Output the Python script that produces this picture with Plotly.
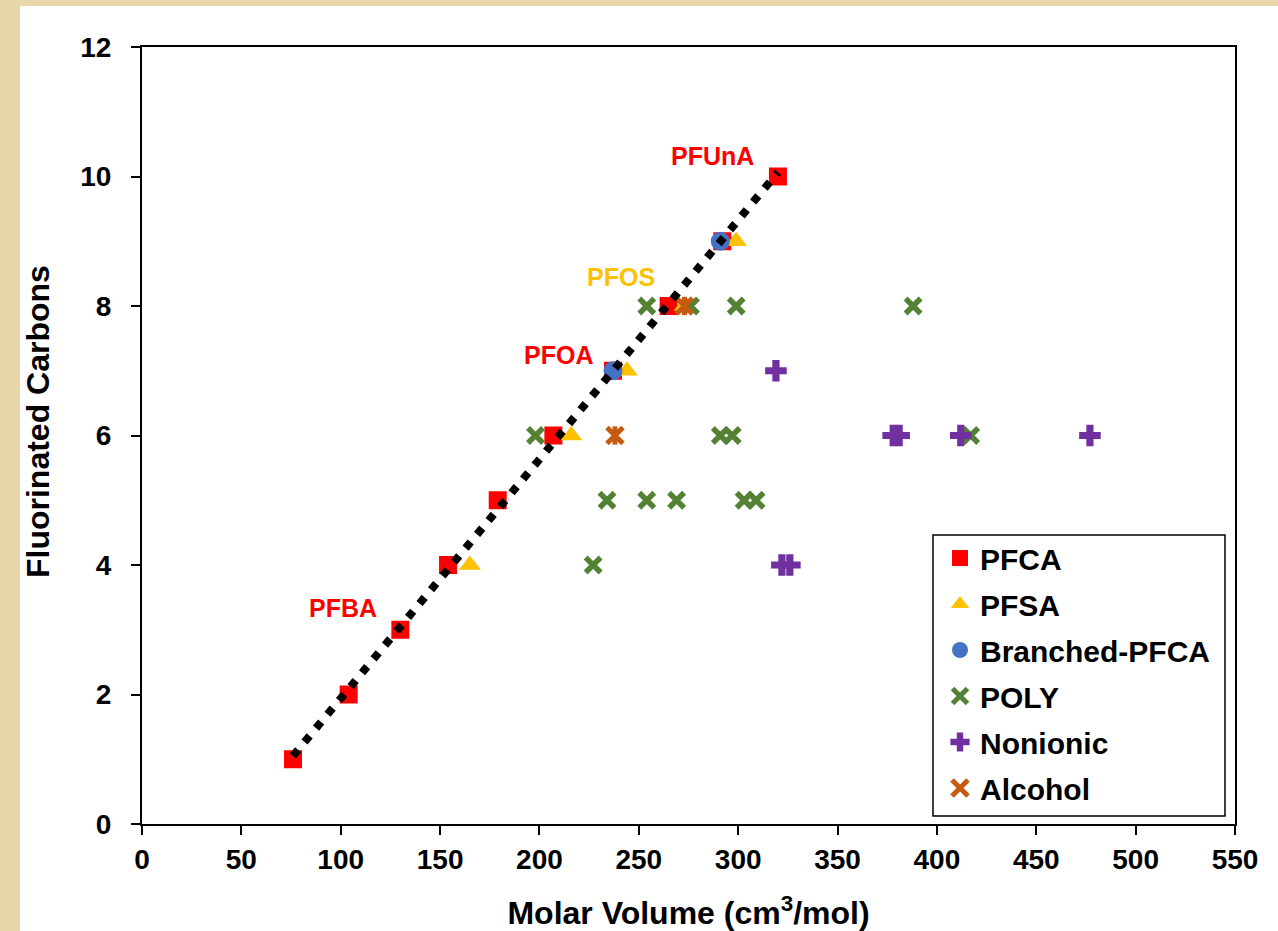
import numpy as np
import plotly.graph_objects as go

# ---------------- data ----------------
pfca_x = [76, 104, 130, 154, 179, 207, 237, 265, 292, 320]
pfca_y = [1, 2, 3, 4, 5, 6, 7, 8, 9, 10]

pfsa_x = [165, 216, 244, 273, 299]
pfsa_y = [4, 6, 7, 8, 9]

branched_x = [237, 291]
branched_y = [7, 9]

poly_x = [198, 227, 234, 254, 269, 303, 309, 254, 276, 299, 388, 291, 297, 417]
poly_y = [6, 4, 5, 5, 5, 5, 5, 8, 8, 8, 8, 6, 6, 6]

nonionic_x = [319, 378, 381, 412, 477, 322, 326]
nonionic_y = [7, 6, 6, 6, 6, 4, 4]

alcohol_x = [238, 273]
alcohol_y = [6, 8]

label_text = ["PFUnA", "PFOS", "PFOA", "PFBA"]
label_x = [287, 241, 209.5, 101]
label_y = [10.32, 8.45, 7.25, 3.33]
label_col = ["#FF0000", "#FFC000", "#FF0000", "#FF0000"]

x_ticks = list(range(0, 551, 50))
y_ticks = list(range(0, 13, 2))

# ---------------- style ----------------
FONT = "Arial, Liberation Sans, sans-serif"
W, H = 1278, 931
L, R, T, B = 142, 43, 47, 107
pw, ph = W - L - R, H - T - B


def px_x(p):  # page pixel -> paper x
    return (p - L) / pw


def px_y(p):  # page pixel -> paper y
    return (H - B - p) / ph


fig = go.Figure()

fig.add_trace(go.Scatter(x=pfca_x, y=pfca_y, mode="markers", name="PFCA", legendgroup="a",
                         marker=dict(symbol="square", size=18, color="#FF0000")))
fig.add_trace(go.Scatter(x=pfsa_x, y=pfsa_y, mode="markers", name="PFSA", legendgroup="b",
                         marker=dict(symbol="triangle-up", size=19, color="#FFC000")))
fig.add_trace(go.Scatter(x=branched_x, y=branched_y, mode="markers", name="Branched-PFCA", legendgroup="c",
                         marker=dict(symbol="circle", size=19, color="#4472C4")))
fig.add_trace(go.Scatter(x=poly_x, y=poly_y, mode="markers", name="POLY", legendgroup="d",
                         marker=dict(symbol="x-thin-open", size=15, color="#548235",
                                     line=dict(width=5.5, color="#548235"))))
fig.add_trace(go.Scatter(x=nonionic_x, y=nonionic_y, mode="markers", name="Nonionic", legendgroup="e",
                         marker=dict(symbol="cross", size=18, color="#7030A0")))
fig.add_trace(go.Scatter(x=alcohol_x, y=alcohol_y, mode="markers", name="Alcohol", legendgroup="f",
                         marker=dict(symbol="x-thin-open", size=16, color="#C55A11",
                                     line=dict(width=5, color="#C55A11"))))
fig.add_trace(go.Scatter(x=alcohol_x, y=alcohol_y, mode="markers", name="Alcohol", legendgroup="f",
                         showlegend=False,
                         marker=dict(symbol="line-ns-open", size=13, color="#C55A11",
                                     line=dict(width=5, color="#C55A11"))))

# linear trendline fitted to PFCA data
slope, intercept = np.polyfit(pfca_x, pfca_y, 1)
tx = [min(pfca_x), max(pfca_x)]
ty = [slope * v + intercept for v in tx]
fig.add_trace(go.Scatter(x=tx, y=ty, mode="lines", showlegend=False, hoverinfo="skip",
                         line=dict(color="black", width=8, dash="8px,10px")))

for t, x, y, c in zip(label_text, label_x, label_y, label_col):
    fig.add_annotation(x=x, y=y, text=t, showarrow=False, xref="x", yref="y",
                       font=dict(family=FONT, size=25, color=c, weight="bold"))

# y-axis title
fig.add_annotation(x=px_x(38), y=px_y(422), xref="paper", yref="paper", showarrow=False,
                   text="Fluorinated Carbons", textangle=-90, xanchor="center", yanchor="middle",
                   font=dict(family=FONT, size=32, color="black", weight="bold"))

# white page over beige background
fig.add_shape(type="rect", xref="paper", yref="paper", layer="below",
              x0=px_x(20), x1=px_x(W), y0=px_y(H), y1=px_y(6),
              fillcolor="white", line=dict(width=0))
# legend frame
fig.add_shape(type="rect", xref="paper", yref="paper", layer="above",
              x0=px_x(933), x1=px_x(1225), y0=px_y(816), y1=px_y(535),
              fillcolor="white", line=dict(width=1.5, color="black"))

axis_common = dict(showgrid=False, zeroline=False, showline=True, linecolor="black", linewidth=2,
                   mirror=True, ticks="outside", ticklen=9, tickwidth=1.5, tickcolor="black",
                   tickfont=dict(family=FONT, size=28, color="black", weight="bold"))

fig.update_layout(
    width=W, height=H,
    margin=dict(l=L, r=R, t=T, b=B, autoexpand=False),
    paper_bgcolor="#E8D6A8",
    plot_bgcolor="white",
    font=dict(family=FONT, color="black", weight="bold"),
    xaxis=dict(axis_common, range=[0, 550], tickvals=x_ticks, ticklabelstandoff=0,
               title=dict(text="Molar Volume (cm<sup>3</sup>/mol)", standoff=35,
                          font=dict(family=FONT, size=32, color="black", weight="bold"))),
    xaxis2=dict(range=[0, 550], tickvals=x_ticks, overlaying="x", anchor="y", side="bottom",
                ticks="inside", ticklen=9, tickwidth=1.5, tickcolor="black",
                showticklabels=False, showline=False, showgrid=False, zeroline=False),
    yaxis=dict(axis_common, range=[0, 12], tickvals=y_ticks, ticklabelstandoff=14),
    legend=dict(x=px_x(940), y=px_y(814), xanchor="left", yanchor="bottom",
                bgcolor="rgba(0,0,0,0)", borderwidth=0,
                font=dict(family=FONT, size=30, color="black", weight="bold"),
                tracegroupgap=4),
    showlegend=True,
)

fig.write_html("out.html", config={"displayModeBar": False},
               post_script="document.body.style.margin='0px';document.body.style.background='#E8D6A8';")
